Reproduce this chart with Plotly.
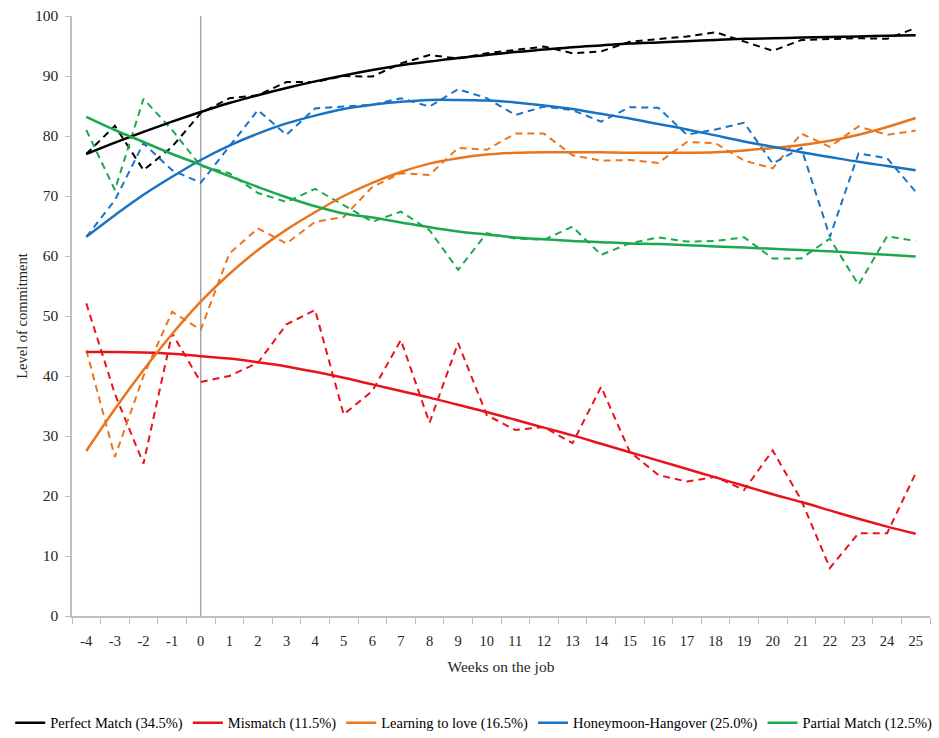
import plotly.graph_objects as go

weeks = [str(w) for w in range(-4, 26)]

# Observed (dashed) values
perfect_obs = [77, 81.7, 74.3, 78.2, 83.8, 86.3, 86.8, 89, 89, 90, 89.9, 92.1, 93.5, 92.9, 93.8,
               94.3, 94.9, 93.8, 94.1, 95.7, 96.1, 96.6, 97.3, 95.7, 94.2, 96, 96.1, 96.3, 96.2, 98]
mismatch_obs = [52.1, 37, 25.4, 47.1, 39, 40, 42.2, 48.6, 51, 33.6, 37.5, 46, 32.2, 45.5, 33.5,
                31, 31.5, 28.8, 38.2, 27.4, 23.5, 22.4, 23.2, 21, 27.6, 19.3, 8, 13.8, 13.8, 23.8]
learning_obs = [44.3, 26.5, 40, 50.7, 47.7, 60.4, 64.6, 62.1, 65.7, 66.5, 71.5, 73.8, 73.5, 78, 77.7,
                80.4, 80.4, 76.8, 75.9, 76, 75.5, 79, 78.8, 75.9, 74.6, 80.4, 78.2, 81.6, 80.2, 80.9]
honeymoon_obs = [63.2, 69.3, 78.8, 74.3, 72.2, 78.2, 84.3, 80.2, 84.6, 84.9, 85.2, 86.3, 84.9, 87.8, 86.3,
                 83.5, 84.9, 84.3, 82.4, 84.8, 84.7, 80.2, 81.1, 82.2, 75.4, 78, 63.2, 77.1, 76.3, 70.7]
partial_obs = [81, 71, 86.2, 81, 75, 73.8, 70.5, 69, 71.2, 68.5, 65.7, 67.4, 64.3, 57.7, 63.8,
               62.9, 62.7, 64.9, 60.2, 62.1, 63.1, 62.4, 62.5, 63.1, 59.6, 59.6, 62.9, 55.2, 63.3, 62.5]

# Trend (solid) values
perfect_fit = [77, 78.9, 80.7, 82.4, 84, 85.5, 86.8, 88, 89.1, 90.1, 91, 91.8, 92.4, 93, 93.5,
               94, 94.4, 94.8, 95.1, 95.4, 95.6, 95.8, 96, 96.2, 96.3, 96.4, 96.5, 96.6, 96.7, 96.8]
mismatch_fit = [44, 44, 43.9, 43.7, 43.3, 42.9, 42.3, 41.6, 40.7, 39.7, 38.6, 37.5, 36.4, 35.2, 34,
                32.7, 31.4, 30.1, 28.7, 27.3, 25.9, 24.5, 23.1, 21.7, 20.3, 19, 17.6, 16.2, 14.9, 13.7]
learning_fit = [27.5, 34.5, 41, 47, 52.4, 57, 61, 64.4, 67.3, 70, 72.2, 74, 75.4, 76.3, 76.9,
                77.2, 77.3, 77.3, 77.3, 77.2, 77.2, 77.2, 77.3, 77.6, 78, 78.5, 79.2, 80.2, 81.5, 83]
honeymoon_fit = [63.2, 66.8, 70.2, 73.2, 76, 78.4, 80.4, 82.1, 83.4, 84.5, 85.2, 85.7, 86, 86, 85.9,
                 85.6, 85.1, 84.5, 83.7, 82.9, 82, 81.1, 80.1, 79.1, 78.2, 77.3, 76.5, 75.7, 75, 74.3]
partial_fit = [83.2, 81, 79, 77, 75.2, 73.3, 71.5, 69.8, 68.3, 67.1, 66.4, 65.6, 64.8, 64.1, 63.6,
               63.1, 62.8, 62.5, 62.3, 62.1, 62, 61.8, 61.6, 61.4, 61.2, 61, 60.8, 60.5, 60.2, 59.9]

series_names = ["Perfect Match (34.5%)", "Mismatch (11.5%)", "Learning to love (16.5%)",
                "Honeymoon-Hangover (25.0%)", "Partial Match (12.5%)"]
colors = ["#000000", "#E8141C", "#E9761E", "#1873C4", "#1CA84E"]
obs = [perfect_obs, mismatch_obs, learning_obs, honeymoon_obs, partial_obs]
fits = [perfect_fit, mismatch_fit, learning_fit, honeymoon_fit, partial_fit]

font_family = "Liberation Serif"

fig = go.Figure()

# vertical reference line at week 0
fig.add_trace(go.Scatter(x=["0", "0"], y=[0, 100], mode="lines",
                         line=dict(color="#A6A6A6", width=1.5), showlegend=False, hoverinfo="skip"))

for name, c, o in zip(series_names, colors, obs):
    fig.add_trace(go.Scatter(x=weeks, y=o, mode="lines", name=name + " observed",
                             line=dict(color=c, width=2, dash="7px,5px"), showlegend=False))

for name, c, f in zip(series_names, colors, fits):
    fig.add_trace(go.Scatter(x=weeks, y=f, mode="lines", name=name,
                             line=dict(color=c, width=2.5, shape="spline", smoothing=1.0)))

fig.update_layout(
    width=939, height=738,
    margin=dict(l=72, r=9, t=16, b=122, autoexpand=False),
    plot_bgcolor="white", paper_bgcolor="white",
    font=dict(family=font_family, size=14, color="#262626"),
    legend=dict(orientation="h", x=-0.072, xanchor="left", y=-0.178, yanchor="middle",
                font=dict(family=font_family, size=14.5, color="#000000"),
                itemwidth=30, tracegroupgap=0),
    xaxis=dict(type="category", categoryorder="array", categoryarray=weeks,
               range=[-0.5, 29.5], showline=True, linecolor="#BFBFBF", linewidth=1.5,
               ticks="outside", tickson="boundaries", ticklen=6, tickcolor="#BFBFBF",
               ticklabelstandoff=11,
               showgrid=False, zeroline=False,
               tickfont=dict(family=font_family, size=14.5, color="#262626"),
               title=dict(text="Weeks on the job", standoff=13,
                          font=dict(family=font_family, size=15.5, color="#262626"))),
    yaxis=dict(range=[0, 100], dtick=10, showline=True, linecolor="#BFBFBF", linewidth=1.5,
               ticks="outside", ticklen=5, tickcolor="#BFBFBF", showgrid=False, zeroline=False,
               ticklabelstandoff=4,
               tickfont=dict(family=font_family, size=15.5, color="#262626"),
               title=dict(text="Level of commitment", standoff=4,
                          font=dict(family=font_family, size=14.5, color="#262626"))),
)

fig.write_html("out.html", config={"displayModeBar": False},
               post_script="document.body.style.margin='0';document.body.style.overflow='hidden';")
